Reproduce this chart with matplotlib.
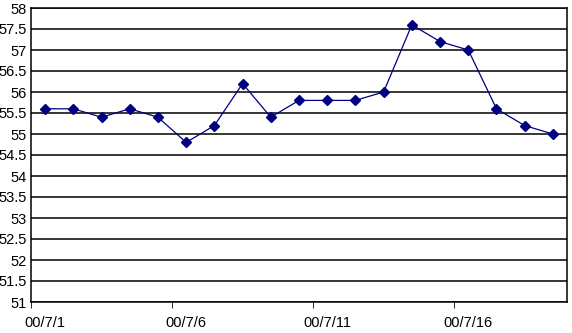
import matplotlib
matplotlib.use('Agg')
import matplotlib.pyplot as plt
import numpy as np

plt.rcParams['font.family'] = ['Liberation Sans Narrow', 'Liberation Sans', 'DejaVu Sans']

dates = ['00/7/1', '00/7/2', '00/7/3', '00/7/4', '00/7/5', '00/7/6', '00/7/7',
         '00/7/8', '00/7/9', '00/7/10', '00/7/11', '00/7/12', '00/7/13',
         '00/7/14', '00/7/15', '00/7/16', '00/7/17', '00/7/18', '00/7/19']
values = [55.6, 55.6, 55.4, 55.6, 55.4, 54.8, 55.2, 56.2, 55.4, 55.8, 55.8,
          55.8, 56.0, 57.6, 57.2, 57.0, 55.6, 55.2, 55.0]
yticks = np.arange(51, 58.01, 0.5)

fig = plt.figure(figsize=(5.72, 3.33), dpi=100)
ax = fig.add_axes([31/572, 1 - 302/333, 536/572, 294/333])

x = np.arange(len(dates))
ax.plot(x, values, color='#000080', lw=0.9, marker='D', markersize=5.5,
        markerfacecolor='#000080', markeredgecolor='#000080', zorder=3)

ax.set_xlim(-0.5, len(dates) - 0.5)
ax.set_ylim(51, 58)
ax.set_yticks(yticks)
ax.set_yticklabels(['%g' % v for v in yticks])
ax.yaxis.grid(True, color='black', lw=1.1)
ax.tick_params(axis='y', length=0, pad=3, labelsize=10.5)

label_pos = x[::5]
ax.set_xticks(label_pos)
ax.set_xticklabels([dates[i] for i in label_pos])
ax.tick_params(axis='x', which='major', length=0, pad=10, labelsize=10.5)
ax.set_xticks(np.arange(-0.5, len(dates) - 1, 5), minor=True)
ax.tick_params(axis='x', which='minor', length=4, direction='out', color='black')

for s in ax.spines.values():
    s.set_color('black')
    s.set_linewidth(1.1)

fig.savefig('out.png', dpi=100)
